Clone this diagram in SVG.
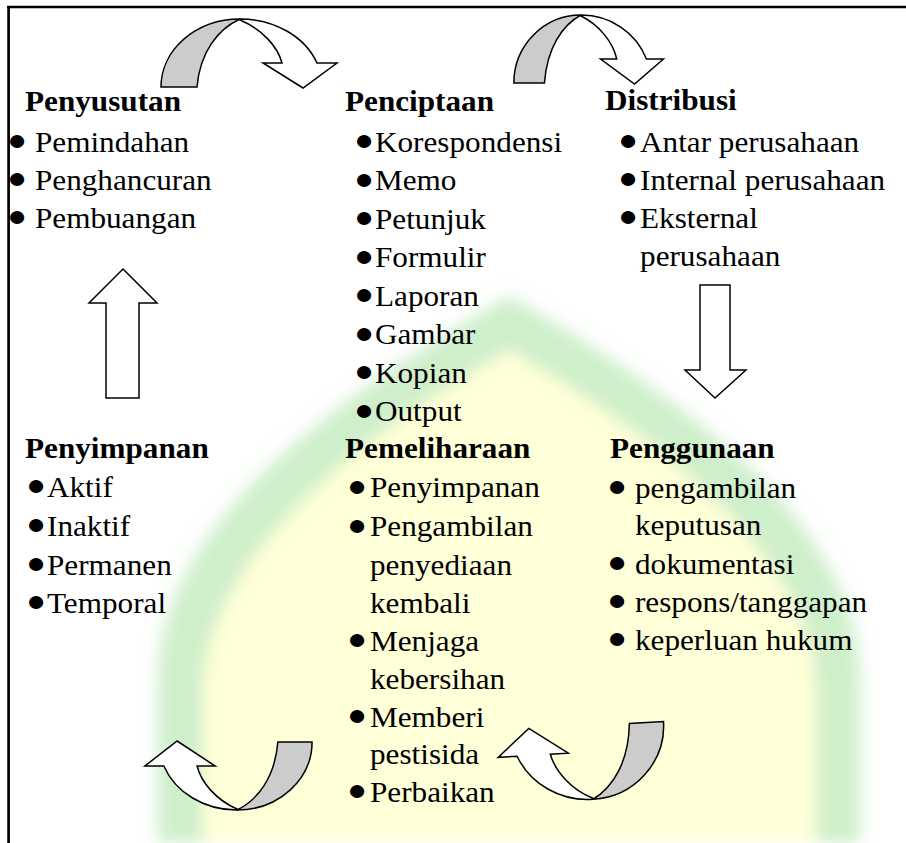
<svg xmlns="http://www.w3.org/2000/svg" xmlns:xlink="http://www.w3.org/1999/xlink" width="906" height="843" viewBox="0 0 906 843">
  <style>
    .h { font-family: "Liberation Serif", "Times New Roman", serif; font-weight: bold; font-size: 28.5px; fill: #000; }
    .t { font-family: "Liberation Serif", "Times New Roman", serif; font-size: 28.5px; fill: #000; }
    .bu { font-size: 30px; }
    .frame { stroke: #000; stroke-width: 2.7; fill: none; }
    .arw { stroke: #000; stroke-width: 1.5; stroke-linejoin: miter; vector-effect: non-scaling-stroke; }
    .back { fill: #cccccc; }
    .front { fill: #ffffff; }
  </style>
  <defs>
    <filter id="soft" x="-10%" y="-10%" width="120%" height="120%">
      <feGaussianBlur stdDeviation="8"/>
    </filter>
    <!-- curved arrow: back face (grey) on the left, front face with head on the right; feet on y=0 -->
    <g id="curvedArrow">
      <path class="arw back" d="M -79,0 A 79 68 0 0 1 0,-68 C -22,-58 -40,-35 -43,0 Z"/>
      <path class="arw front" d="M 0,-68 A 82 68 0 0 1 77,-24 L 97,-24 L 63,1 L 23,-24 L 42,-24 C 38,-40 22,-58 0,-67 Z"/>
    </g>
  </defs>

  <rect width="906" height="843" fill="#ffffff"/>

  <!-- faint arch in the background -->
  <g id="backdrop" filter="url(#soft)">
    <path fill="#cfefcb" d="M 158,843 L 158,680 C 158,560 260,440 509,296 C 758,440 860,560 860,680 L 860,843 Z"/>
    <path fill="#ffffd8" d="M 203,843 L 203,690 C 203,590 300,470 509,350 C 718,470 816,590 816,690 L 816,843 Z"/>
  </g>

  <!-- outer rule lines -->
  <g id="frame">
    <line class="frame" x1="7" y1="7" x2="906" y2="7"/>
    <line class="frame" x1="8.6" y1="6" x2="8.6" y2="843"/>
  </g>

  <g id="connectors">
    <use xlink:href="#curvedArrow" transform="translate(240,87)"/>
    <use xlink:href="#curvedArrow" transform="translate(581,83) scale(0.85,1)"/>
    <polygon class="arw front" points="700,285 730,285 730,370 746,370 715,398 685,370 700,370"/>
    <use xlink:href="#curvedArrow" transform="translate(588.6,726) rotate(176.6) scale(0.95,1.08)"/>
    <use xlink:href="#curvedArrow" transform="translate(237,742) rotate(180) scale(0.95,1)"/>
    <polygon class="arw front" points="123,269 157,303 139,303 139,398 106,398 106,303 89,303"/>
  </g>

  <g id="penyusutan" transform="translate(25,0) scale(1.095,1)">
    <text class="h" x="0" y="111">Penyusutan</text>
    <text class="t" y="152"><tspan class="bu" x="-16.4" dy="-1.5">●</tspan><tspan x="9.1" dy="1.5">Pemindahan</tspan></text>
    <text class="t" y="190"><tspan class="bu" x="-16.4" dy="-1.5">●</tspan><tspan x="9.1" dy="1.5">Penghancuran</tspan></text>
    <text class="t" y="228"><tspan class="bu" x="-16.4" dy="-1.5">●</tspan><tspan x="9.1" dy="1.5">Pembuangan</tspan></text>
  </g>

  <g id="penciptaan" transform="translate(345,0) scale(1.095,1)">
    <text class="h" x="0" y="111">Penciptaan</text>
    <text class="t" y="152"><tspan class="bu" x="8.3" dy="-1.5">●</tspan><tspan x="27.4" dy="1.5">Korespondensi</tspan></text>
    <text class="t" y="190.5"><tspan class="bu" x="8.3" dy="-1.5">●</tspan><tspan x="27.4" dy="1.5">Memo</tspan></text>
    <text class="t" y="229"><tspan class="bu" x="8.3" dy="-1.5">●</tspan><tspan x="27.4" dy="1.5">Petunjuk</tspan></text>
    <text class="t" y="267.5"><tspan class="bu" x="8.3" dy="-1.5">●</tspan><tspan x="27.4" dy="1.5">Formulir</tspan></text>
    <text class="t" y="306"><tspan class="bu" x="8.3" dy="-1.5">●</tspan><tspan x="27.4" dy="1.5">Laporan</tspan></text>
    <text class="t" y="344.5"><tspan class="bu" x="8.3" dy="-1.5">●</tspan><tspan x="27.4" dy="1.5">Gambar</tspan></text>
    <text class="t" y="383"><tspan class="bu" x="8.3" dy="-1.5">●</tspan><tspan x="27.4" dy="1.5">Kopian</tspan></text>
    <text class="t" y="421.5"><tspan class="bu" x="8.3" dy="-1.5">●</tspan><tspan x="27.4" dy="1.5">Output</tspan></text>
  </g>

  <g id="distribusi" transform="translate(605,0) scale(1.095,1)">
    <text class="h" x="0" y="110.5">Distribusi</text>
    <text class="t" y="152"><tspan class="bu" x="11.9" dy="-1.5">●</tspan><tspan x="32" dy="1.5">Antar perusahaan</tspan></text>
    <text class="t" y="190"><tspan class="bu" x="11.9" dy="-1.5">●</tspan><tspan x="32" dy="1.5">Internal perusahaan</tspan></text>
    <text class="t" y="228"><tspan class="bu" x="11.9" dy="-1.5">●</tspan><tspan x="32" dy="1.5">Eksternal</tspan></text>
    <text class="t" x="32" y="266">perusahaan</text>
  </g>

  <g id="penyimpanan" transform="translate(25,0) scale(1.095,1)">
    <text class="h" x="0" y="458.5">Penyimpanan</text>
    <text class="t" y="497"><tspan class="bu" x="1" dy="-1.5">●</tspan><tspan x="20.1" dy="1.5">Aktif</tspan></text>
    <text class="t" y="536"><tspan class="bu" x="1" dy="-1.5">●</tspan><tspan x="20.1" dy="1.5">Inaktif</tspan></text>
    <text class="t" y="575"><tspan class="bu" x="1" dy="-1.5">●</tspan><tspan x="20.1" dy="1.5">Permanen</tspan></text>
    <text class="t" y="613"><tspan class="bu" x="1" dy="-1.5">●</tspan><tspan x="20.1" dy="1.5">Temporal</tspan></text>
  </g>

  <g id="pemeliharaan" transform="translate(345,0) scale(1.095,1)">
    <text class="h" x="0" y="458.5">Pemeliharaan</text>
    <text class="t" y="497.5"><tspan class="bu" x="1.9" dy="-1.5">●</tspan><tspan x="22.8" dy="1.5">Penyimpanan</tspan></text>
    <text class="t" y="536.5"><tspan class="bu" x="1.9" dy="-1.5">●</tspan><tspan x="22.8" dy="1.5">Pengambilan</tspan></text>
    <text class="t" x="22.8" y="575">penyediaan</text>
    <text class="t" x="22.8" y="613">kembali</text>
    <text class="t" y="651"><tspan class="bu" x="1.9" dy="-1.5">●</tspan><tspan x="22.8" dy="1.5">Menjaga</tspan></text>
    <text class="t" x="22.8" y="689">kebersihan</text>
    <text class="t" y="727"><tspan class="bu" x="1.9" dy="-1.5">●</tspan><tspan x="22.8" dy="1.5">Memberi</tspan></text>
    <text class="t" x="22.8" y="764.5">pestisida</text>
    <text class="t" y="802"><tspan class="bu" x="1.9" dy="-1.5">●</tspan><tspan x="22.8" dy="1.5">Perbaikan</tspan></text>
  </g>

  <g id="penggunaan" transform="translate(610,0) scale(1.095,1)">
    <text class="h" x="0" y="458.5">Penggunaan</text>
    <text class="t" y="498"><tspan class="bu" x="-2.7" dy="-1.5">●</tspan><tspan x="22.8" dy="1.5">pengambilan</tspan></text>
    <text class="t" x="22.8" y="535.5">keputusan</text>
    <text class="t" y="574"><tspan class="bu" x="-2.7" dy="-1.5">●</tspan><tspan x="22.8" dy="1.5">dokumentasi</tspan></text>
    <text class="t" y="612"><tspan class="bu" x="-2.7" dy="-1.5">●</tspan><tspan x="22.8" dy="1.5">respons/tanggapan</tspan></text>
    <text class="t" y="650"><tspan class="bu" x="-2.7" dy="-1.5">●</tspan><tspan x="22.8" dy="1.5">keperluan hukum</tspan></text>
  </g>
</svg>
